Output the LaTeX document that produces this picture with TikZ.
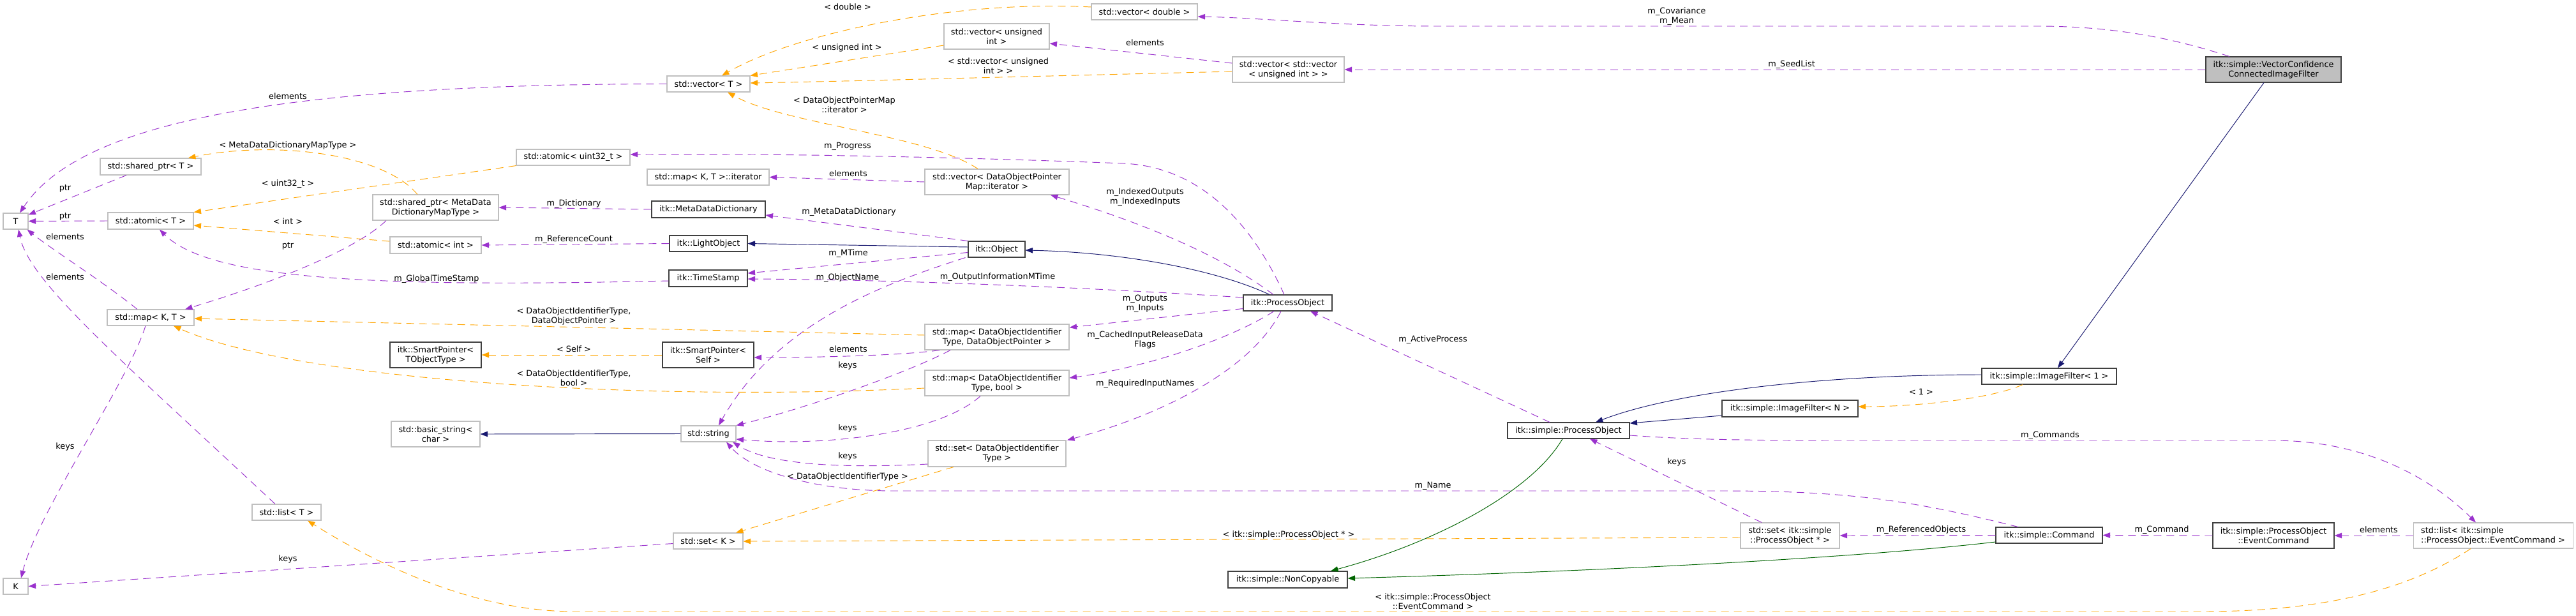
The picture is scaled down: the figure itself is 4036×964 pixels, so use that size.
\documentclass[tikz,border=0pt]{standalone}
\usepackage{fontspec}
\setmainfont{DejaVu Sans}
\usetikzlibrary{arrows.meta}
\definecolor{usecol}{HTML}{9A32CD}
\definecolor{tplcol}{HTML}{FFA500}
\definecolor{inhcol}{HTML}{191970}
\definecolor{privcol}{HTML}{006400}
\definecolor{graybox}{HTML}{BFBFBF}
\definecolor{darkbox}{HTML}{404040}
\begin{document}
\begin{tikzpicture}[x=1pt,y=-1pt,
  font=\fontsize{12.85}{15}\selectfont,
  box/.style={draw, line width=1.1pt, rectangle, inner sep=0pt, align=center, text=black, fill=white},
  ext/.style={box, draw=graybox},
  doc/.style={box, draw=darkbox},
  root/.style={box, draw=darkbox, fill=graybox},
  lbl/.style={inner sep=0pt, align=center},
  tipa/.style={-{Triangle[length=11.5pt,width=8.5pt]}},
  use/.style={tipa, draw=usecol, fill=none, line width=0.95pt, dash pattern=on 12pt off 8pt},
  tpl/.style={tipa, draw=tplcol, fill=none, line width=0.95pt, dash pattern=on 12pt off 8pt},
  inh/.style={tipa, draw=inhcol, line width=0.95pt},
  priv/.style={tipa, draw=privcol, line width=0.95pt},
]
\fill[white] (0,0) rectangle (4036,964);
\useasboundingbox (0,0) rectangle (4036,964);

% ---------- nodes ----------
\node[ext, minimum width=166pt, minimum height=25pt] (vecdouble) at (1793,18.5) {std::vector< double >};
\node[ext, minimum width=165pt, minimum height=40pt] (vecuint) at (1561.5,57) {std::vector< unsigned\\int >};
\node[ext, minimum width=175pt, minimum height=40pt] (vecvec) at (2018.5,109) {std::vector< std::vector\\< unsigned int > >};
\node[root, minimum width=212pt, minimum height=40pt] (vccif) at (3562,109) {itk::simple::VectorConfidence\\ConnectedImageFilter};
\node[ext, minimum width=130pt, minimum height=25pt] (vecT) at (1110,131.5) {std::vector< T >};
\node[ext, minimum width=178pt, minimum height=25pt] (atomicu32) at (898,246.5) {std::atomic< uint32\_t >};
\node[ext, minimum width=191pt, minimum height=25pt] (mapiter) at (1109.5,277.5) {std::map< K, T >::iterator};
\node[ext, minimum width=226pt, minimum height=40pt] (vecdop) at (1562,285) {std::vector< DataObjectPointer\\Map::iterator >};
\node[ext, minimum width=197pt, minimum height=40pt] (sptrmeta) at (682.5,325) {std::shared\_ptr< MetaData\\DictionaryMapType >};
\node[doc, minimum width=178pt, minimum height=26pt] (mdd) at (1110,328) {itk::MetaDataDictionary};
\node[ext, minimum width=158pt, minimum height=26pt] (sptrT) at (236,261) {std::shared\_ptr< T >};
\node[ext, minimum width=39pt, minimum height=25pt] (T) at (24.5,346.5) {T};
\node[ext, minimum width=134pt, minimum height=26pt] (atomicT) at (236,346) {std::atomic< T >};
\node[ext, minimum width=143pt, minimum height=26pt] (atomicint) at (682.5,384) {std::atomic< int >};
\node[doc, minimum width=122pt, minimum height=25pt] (light) at (1110,381.5) {itk::LightObject};
\node[doc, minimum width=89pt, minimum height=25pt] (object) at (1561.5,390.5) {itk::Object};
\node[doc, minimum width=123pt, minimum height=26pt] (ts) at (1109.5,436) {itk::TimeStamp};
\node[doc, minimum width=139pt, minimum height=25pt] (po) at (2017.5,474.5) {itk::ProcessObject};
\node[ext, minimum width=136pt, minimum height=25pt] (mapKT) at (236,497.5) {std::map< K, T >};
\node[ext, minimum width=226pt, minimum height=40pt] (mapdop) at (1562,528) {std::map< DataObjectIdentifier\\Type, DataObjectPointer >};
\node[doc, minimum width=143pt, minimum height=40pt] (spTO) at (682.5,556) {itk::SmartPointer<\\TObjectType >};
\node[doc, minimum width=143pt, minimum height=40pt] (spSelf) at (1109.5,556) {itk::SmartPointer<\\Self >};
\node[ext, minimum width=226pt, minimum height=40pt] (mapbool) at (1562,600) {std::map< DataObjectIdentifier\\Type, bool >};
\node[doc, minimum width=191pt, minimum height=25pt] (sPO) at (2457.5,674.5) {itk::simple::ProcessObject};
\node[doc, minimum width=211pt, minimum height=25pt] (IF1) at (3210.5,589.5) {itk::simple::ImageFilter< 1 >};
\node[doc, minimum width=213pt, minimum height=26pt] (IFN) at (2804.5,640) {itk::simple::ImageFilter< N >};
\node[ext, minimum width=139pt, minimum height=40pt] (basicstr) at (682.5,680) {std::basic\_string<\\char >};
\node[ext, minimum width=86pt, minimum height=25pt] (string) at (1110,679.5) {std::string};
\node[ext, minimum width=216pt, minimum height=41pt] (setdoi) at (1562,710.5) {std::set< DataObjectIdentifier\\Type >};
\node[ext, minimum width=108pt, minimum height=25pt] (listT) at (449,802.5) {std::list< T >};
\node[ext, minimum width=109pt, minimum height=25pt] (setK) at (1109.5,847.5) {std::set< K >};
\node[ext, minimum width=155pt, minimum height=40pt] (setspo) at (2804.5,839) {std::set< itk::simple\\::ProcessObject * >};
\node[doc, minimum width=167pt, minimum height=25pt] (cmd) at (3210.5,838.5) {itk::simple::Command};
\node[doc, minimum width=190pt, minimum height=40pt] (evcmd) at (3562,839) {itk::simple::ProcessObject\\::EventCommand};
\node[ext, minimum width=250pt, minimum height=40pt, align=left] (listev) at (3906,839) {std::list< itk::simple\\::ProcessObject::EventCommand >};
\node[doc, minimum width=187pt, minimum height=26pt] (noncopy) at (2017.5,908) {itk::simple::NonCopyable};
\node[ext, minimum width=39pt, minimum height=25pt] (K) at (24.5,918.5) {K};

% ---------- usage edges (purple) ----------
\draw[use] (vecT.west) .. controls (400,132) and (120,200) .. ([xshift=6.5pt]T.north);
\draw[use] ([xshift=-38pt]sptrT.south) -- ([yshift=-3pt]T.north east);
\draw[use] (atomicT.west) -- (T.east);
\draw[use] ([xshift=-21pt]mapKT.north) .. controls (160,440) and (80,390) .. ([xshift=-2pt]T.south east);
\draw[use] ([xshift=-18pt]listT.north) .. controls (181,556) and (45,440) .. ([xshift=4.5pt]T.south);
\draw[use] ([xshift=-8pt]mapKT.south) .. controls (200,600) and (60,800) .. ([xshift=8.5pt]K.north);
\draw[use] ([yshift=-4pt]setK.west) -- (K.east);
\draw[use] ([xshift=-77.5pt]sptrmeta.south) .. controls (570,380) and (470,430) .. ([xshift=54pt]mapKT.north);
\draw[use] ([yshift=-4pt]ts.west) .. controls (600,450) and (330,440) .. ([xshift=14pt]atomicT.south);
\draw[use] (light.west) -- (atomicint.east);
\draw[use] (mdd.west) -- (sptrmeta.east);
\draw[use] (object.north west) -- ([yshift=-9pt]mdd.east);
\draw[use] ([yshift=-5pt]object.west) -- ([yshift=8pt]ts.east);
\draw[use] ([xshift=-49pt]object.south) .. controls (1400,440) and (1220,500) .. ([xshift=16pt]string.north);
\draw[use] ([yshift=8.5pt]po.west) .. controls (1700,450) and (1400,438) .. ([yshift=-1pt]ts.east);
\draw[use] ([xshift=-5.5pt]po.north) .. controls (1975,380) and (1900,262) .. (1760,256) .. controls (1500,246) and (1200,240) .. ([yshift=4.5pt]atomicu32.east);
\draw[use] (vecdop.west) -- (mapiter.east);
\draw[use] ([xshift=-22.5pt]po.north) .. controls (1900,390) and (1760,340) .. ([xshift=84pt]vecdop.south);
\draw[use] ([yshift=-9pt]po.west) -- ([yshift=15pt]mapdop.east);
\draw[use] ([xshift=-21.5pt]po.south) .. controls (1930,530) and (1800,575) .. ([yshift=8pt]mapbool.east);
\draw[use] ([xshift=-10.5pt]po.south) .. controls (1960,580) and (1820,650) .. ([xshift=110pt]setdoi.north);
\draw[use] ([xshift=-90pt]mapdop.south) .. controls (1420,556) and (1300,560) .. ([yshift=-4pt]spSelf.east);
\draw[use] ([xshift=-73pt]mapdop.south) .. controls (1420,585) and (1260,640) .. (string.north east);
\draw[use] ([xshift=-26pt]mapbool.south) .. controls (1470,680) and (1290,700) .. ([yshift=-8.5pt]string.east);
\draw[use] ([yshift=-16.5pt]setdoi.west) .. controls (1300,735) and (1200,725) .. ([xshift=38pt]string.south);
\draw[use] ([xshift=-48.5pt]cmd.north) .. controls (3000,785) and (2900,769) .. (2700,769) -- (1400,769) .. controls (1280,769) and (1180,740) .. ([xshift=28pt]string.south);
\draw[use] ([xshift=-29.5pt]sPO.north) -- ([xshift=35.5pt]po.south);
\draw[use] ([xshift=-44.5pt]setspo.north) -- ([xshift=33.5pt]sPO.south);
\draw[use] ([yshift=-7.5pt]sPO.east) .. controls (2650,689) and (2750,690) .. (2900,690) -- (3560,690) .. controls (3720,690) and (3820,760) .. ([xshift=-27pt]listev.north);
\draw[use] (cmd.west) -- (setspo.east);
\draw[use] (evcmd.west) -- (cmd.east);
\draw[use] (listev.west) -- (evcmd.east);
\draw[use] ([xshift=-69pt]vccif.north) .. controls (3420,65) and (3330,42) .. (3200,41) -- (2250,41) .. controls (2100,41) and (1980,28) .. ([yshift=-7.5pt]vecdouble.east);
\draw[use] (vccif.west) -- (vecvec.east);
\draw[use] ([yshift=10pt]vecvec.west) -- ([yshift=-11pt]vecuint.east);

% ---------- template edges (orange) ----------
\draw[tpl] ([yshift=7.5pt]vecdouble.west) .. controls (1500,0) and (1250,50) .. ([xshift=21pt]vecT.north);
\draw[tpl] ([yshift=-14pt]vecuint.west) -- (vecT.north east);
\draw[tpl] ([yshift=-3pt]vecvec.west) .. controls (1600,120) and (1300,128) .. ([yshift=1.5pt]vecT.east);
\draw[tpl] ([xshift=-30pt]vecdop.north) .. controls (1450,210) and (1230,195) .. ([xshift=30pt]vecT.south);
\draw[tpl] ([xshift=-28.5pt]sptrmeta.north) .. controls (600,240) and (430,220) .. ([xshift=59pt]sptrT.north);
\draw[tpl] (atomicu32.south west) -- (atomicT.north east);
\draw[tpl] ([yshift=6pt]atomicint.west) -- ([yshift=-7pt]atomicT.east);
\draw[tpl] ([yshift=3pt]mapdop.west) -- ([yshift=-1.5pt]mapKT.east);
\draw[tpl] ([yshift=-8pt]mapbool.west) .. controls (1000,630) and (460,595) .. ([xshift=36pt]mapKT.south);
\draw[tpl] (spSelf.west) -- (spTO.east);
\draw[tpl] ([xshift=-68pt]setdoi.south) -- ([xshift=43.5pt]setK.north);
\draw[tpl] ([yshift=-3pt]setspo.west) -- ([yshift=-0.5pt]setK.east);
\draw[tpl] ([xshift=-35pt]listev.south) .. controls (3780,920) and (3650,958) .. (3450,958) -- (900,958) .. controls (750,958) and (600,890) .. ([xshift=33pt]listT.south);
\draw[tpl] ([xshift=-41.5pt]IF1.south) .. controls (3120,625) and (3000,637) .. ([yshift=3pt]IFN.east);

% ---------- inheritance edges ----------
\draw[inh] ([yshift=3.5pt]object.west) -- (light.east);
\draw[inh] ([xshift=-28.5pt]po.north) .. controls (1900,420) and (1750,395) .. ([yshift=-1.5pt]object.east);
\draw[inh] ([yshift=2.5pt]IF1.west) .. controls (2850,587) and (2620,615) .. ([xshift=42.5pt]sPO.north);
\draw[inh] ([yshift=-11pt]IFN.west) -- ([yshift=11.5pt]sPO.east);
\draw[inh] ([xshift=-15pt]vccif.south) -- ([xshift=13.5pt]IF1.north);
\draw[inh] (string.west) -- (basicstr.east);
\draw[priv] ([xshift=-9.5pt]sPO.south) .. controls (2400,770) and (2250,850) .. ([xshift=67.5pt]noncopy.north);
\draw[priv] ([yshift=-10.5pt]cmd.west) .. controls (2900,875) and (2500,895) .. ([yshift=2pt]noncopy.east);

% ---------- labels ----------
\node[lbl] (l1) at (451,151) {elements};
\node[lbl] (l2) at (451,228) {< MetaDataDictionaryMapType >};
\node[lbl] (l3) at (102,295) {ptr};
\node[lbl] (l4) at (451,288) {< uint32\_t >};
\node[lbl] (l5) at (102,339) {ptr};
\node[lbl] (l6) at (451,347) {< int >};
\node[lbl] (l7) at (102,371) {elements};
\node[lbl] (l8) at (451,385) {ptr};
\node[lbl] (l9) at (102,434) {elements};
\node[lbl] (l10) at (684,437) {m\_GlobalTimeStamp};
\node[lbl] (l11) at (102,700) {keys};
\node[lbl] (l12) at (451,876) {keys};
\node[lbl] (l13) at (1328,11) {< double >};
\node[lbl] (l14) at (1327,75) {< unsigned int >};
\node[lbl] (l15) at (1323,164) {< DataObjectPointerMap\\::iterator >};
\node[lbl] (l16) at (1328,229) {m\_Progress};
\node[lbl] (l17) at (1329,272) {elements};
\node[lbl] (l18) at (899,319) {m\_Dictionary};
\node[lbl] (l19) at (1330,332) {m\_MetaDataDictionary};
\node[lbl] (l20) at (899,375) {m\_ReferenceCount};
\node[lbl] (l21) at (1329,397) {m\_MTime};
\node[lbl] (l22) at (1328,435) {m\_ObjectName};
\node[lbl] (l23) at (899,495) {< DataObjectIdentifierType,\\DataObjectPointer >};
\node[lbl] (l24) at (899,547) {< Self >};
\node[lbl] (l25) at (899,592) {< DataObjectIdentifierType,\\bool >};
\node[lbl] (l26) at (1329,547) {elements};
\node[lbl] (l27) at (1328,573) {keys};
\node[lbl] (l28) at (1328,671) {keys};
\node[lbl] (l29) at (1328,715) {keys};
\node[lbl] (l30) at (1328,747) {< DataObjectIdentifierType >};
\node[lbl] (l31) at (1794,67) {elements};
\node[lbl] (l32) at (1564,103) {< std::vector< unsigned\\int > >};
\node[lbl] (l33) at (1794,308.5) {m\_IndexedOutputs\\m\_IndexedInputs};
\node[lbl] (l34) at (1563,434) {m\_OutputInformationMTime};
\node[lbl] (l35) at (1794,475.5) {m\_Outputs\\m\_Inputs};
\node[lbl] (l36) at (1794,532.5) {m\_CachedInputReleaseData\\Flags};
\node[lbl] (l37) at (1794,601) {m\_RequiredInputNames};
\node[lbl] (l38) at (2019,838) {< itk::simple::ProcessObject * >};
\node[lbl] (l39) at (2627,26) {m\_Covariance\\m\_Mean};
\node[lbl] (l40) at (2245,532) {m\_ActiveProcess};
\node[lbl] (l41) at (2627,724) {keys};
\node[lbl] (l42) at (2245,761) {m\_Name};
\node[lbl] (l43) at (2245,942.5) {< itk::simple::ProcessObject\\::EventCommand >};
\node[lbl] (l44) at (2807,101) {m\_SeedList};
\node[lbl] (l45) at (3010,614) {< 1 >};
\node[lbl] (l46) at (3212,682) {m\_Commands};
\node[lbl] (l47) at (3010,830) {m\_ReferencedObjects};
\node[lbl] (l48) at (3387,830) {m\_Command};
\node[lbl] (l49) at (3727,830) {elements};
\end{tikzpicture}
\end{document}
